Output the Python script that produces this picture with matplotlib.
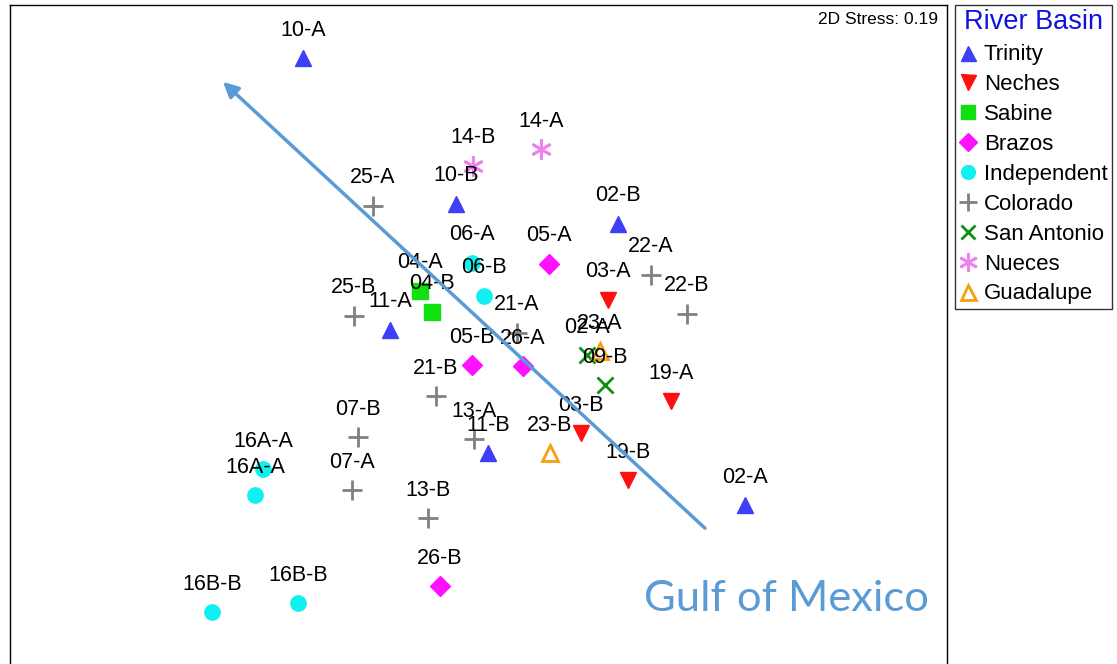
import matplotlib
matplotlib.use("Agg")
import matplotlib.pyplot as plt
from matplotlib.lines import Line2D

plt.rcParams['font.family'] = ['Liberation Sans', 'DejaVu Sans']

# NMDS ordination scores (plot units)
# Trinity
trinity_lab = ["10-A", "10-B", "02-B", "11-A", "11-B", "02-A"]
trinity_x = [303, 456, 618, 390, 488, 745]
trinity_y = [58, 204, 224, 330, 454, 506]
# Neches
neches_lab = ["03-A", "19-A", "03-B", "19-B"]
neches_x = [608, 671, 581, 628]
neches_y = [300, 402, 434, 481]
# Sabine
sabine_lab = ["04-A", "04-B"]
sabine_x = [420, 432]
sabine_y = [291, 312]
# Brazos
brazos_lab = ["05-A", "05-B", "26-A", "26-B"]
brazos_x = [549, 472, 523, 440]
brazos_y = [264, 366, 367, 587]
# Independent
indep_lab = ["06-A", "06-B", "16A-A", "16A-A", "16B-B", "16B-B"]
indep_x = [472, 484, 263, 255, 212, 298]
indep_y = [263, 296, 470, 496, 613, 604]
# Colorado
colo_lab = ["25-A", "25-B", "22-A", "22-B", "21-A", "21-B", "13-A", "07-B", "07-A", "13-B"]
colo_x = [373, 354, 651, 687, 517, 436, 474, 358, 352, 428]
colo_y = [206, 316, 275, 314, 333, 397, 440, 438, 491, 519]
# San Antonio
sa_lab = ["02-A", "09-B"]
sa_x = [587, 605]
sa_y = [356, 386]
# Nueces
nueces_lab = ["14-B", "14-A"]
nueces_x = [473, 541]
nueces_y = [166, 149]
# Guadalupe
guad_lab = ["23-A", "23-B"]
guad_x = [600, 550]
guad_y = [352, 454]

groups = [
    ("Trinity", trinity_lab, trinity_x, trinity_y, dict(marker="^", color="#3f3ff5", ms=12)),
    ("Neches", neches_lab, neches_x, neches_y, dict(marker="v", color="#ff1010", ms=12)),
    ("Sabine", sabine_lab, sabine_x, sabine_y, dict(marker="s", color="#10e010", ms=11)),
    ("Brazos", brazos_lab, brazos_x, brazos_y, dict(marker="D", color="#ff10ff", ms=10)),
    ("Independent", indep_lab, indep_x, indep_y, dict(marker="o", color="#10f0f0", ms=11)),
    ("Colorado", colo_lab, colo_x, colo_y, dict(marker="+", color="#808080", ms=15, mew=2)),
    ("San Antonio", sa_lab, sa_x, sa_y, dict(marker="x", color="#109010", ms=11, mew=2)),
    ("Nueces", nueces_lab, nueces_x, nueces_y, dict(marker=(6, 2, 0), color="#ee82ee", ms=15, mew=2)),
    ("Guadalupe", guad_lab, guad_x, guad_y, dict(marker="^", color="#f5a010", ms=12, mfc="none", mew=2)),
]

fig = plt.figure(figsize=(11.17, 6.64), dpi=100)
ax = fig.add_axes([10 / 1117, -6 / 664, 937 / 1117, 665 / 664])
ax.set_xlim(10, 947)
ax.set_ylim(671, 5)
ax.set_xticks([])
ax.set_yticks([])
for s in ax.spines.values():
    s.set_linewidth(1)

handles = []
for name, labs, xs, ys, st in groups:
    ax.plot(xs, ys, linestyle="none", zorder=3, **st)
    for lab, x, y in zip(labs, xs, ys):
        ax.annotate(lab, (x, y), xytext=(0, 20), textcoords="offset points",
                    ha="center", va="center", fontsize=15.5, zorder=4)
    leg_st = dict(st)
    leg_st["ms"] = st["ms"] * 0.9
    handles.append(Line2D([], [], linestyle="none", label=name, **leg_st))

# Gulf direction arrow
ax.annotate("", xy=(223, 82), xytext=(705, 529),
            arrowprops=dict(arrowstyle="-|>,head_length=0.9,head_width=0.45",
                            color="#5b9bd5", lw=2.5, shrinkA=0, shrinkB=0), zorder=5)
ax.text(787, 600, "Gulf of Mexico", color="#5b9bd5", fontsize=31.3,
        family="Lato", ha="center", va="center", zorder=5)

ax.text(938, 20, "2D Stress: 0.19", ha="right", va="center", fontsize=12.5)

leg = fig.legend(handles=handles, title="River Basin", loc="upper left",
                 bbox_to_anchor=(955 / 1117, 1 - 5 / 664), frameon=True,
                 fancybox=False, edgecolor="black", fontsize=16,
                 title_fontsize=19.5, handlelength=0.8, handletextpad=0.3,
                 labelspacing=0.4, borderpad=0.2, borderaxespad=0)
leg.get_title().set_color("#1010e0")
leg.get_frame().set_linewidth(1)

fig.savefig("out.png", dpi=100)
